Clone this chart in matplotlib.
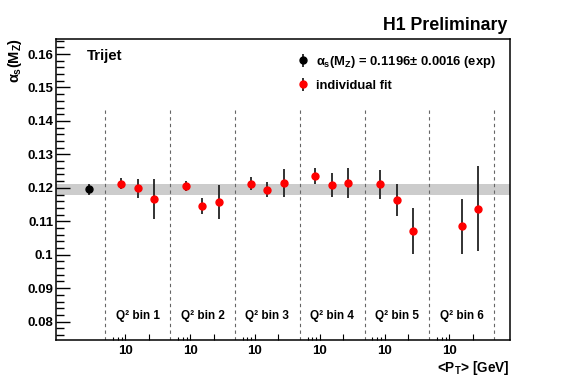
import numpy as np
import matplotlib
matplotlib.use("Agg")
import matplotlib.pyplot as plt

plt.rcParams['font.family'] = ['Liberation Sans', 'DejaVu Sans']
plt.rcParams['font.weight'] = 'bold'
plt.rcParams['mathtext.fontset'] = 'custom'
plt.rcParams['mathtext.rm'] = 'Liberation Sans:bold'
plt.rcParams['mathtext.it'] = 'Liberation Sans:bold'
plt.rcParams['mathtext.bf'] = 'Liberation Sans:bold'

# individual fits, one entry per point
q2_bin = [1, 1, 1, 2, 2, 2, 3, 3, 3, 4, 4, 4, 5, 5, 5, 6, 6]
pt_mean = [8.8, 14.4, 23.3, 8.8, 14.4, 23.3, 8.8, 14.4, 23.3,
           8.8, 14.4, 23.3, 8.8, 14.4, 23.3, 14.4, 23.3]
alpha = [0.1212, 0.1198, 0.1166, 0.1205, 0.1146, 0.1158, 0.1212, 0.1195, 0.1215,
         0.1234, 0.1209, 0.1215, 0.1211, 0.1163, 0.1072, 0.1085, 0.1138]
alpha_err = [0.0016, 0.0027, 0.0059, 0.0015, 0.0024, 0.0050, 0.0019, 0.0023, 0.0042,
             0.0024, 0.0035, 0.0045, 0.0043, 0.0048, 0.0069, 0.0083, 0.0126]

# combined fit (drawn left of the first Q2 bin)
comb_alpha = 0.1196
comb_err = 0.0016
comb_pt = 23.0
comb_bin = 0

bin_names = ["Q\u00b2 bin %d" % i for i in range(1, 7)]
pt_edge = 5.54          # lower pT edge of each Q2 panel
bin_width = 0.831       # decades per Q2 panel
tick_minor_pt = [7, 8, 9]
tick_major_pt = [10, 20]


def xpos(pt, b):
    # every Q2 bin is its own log-pT panel, shifted along x
    return np.log10(pt) + (np.asarray(b) - 1) * bin_width


fig = plt.figure(figsize=(5.67, 3.91), dpi=100)
ax = fig.add_axes([56/567, 51/391, 454/567, 301/391])

ax.set_xlim(0.112, 5.932)
ax.set_ylim(0.0745, 0.1645)

# band of the combined result
ax.axhspan(comb_alpha - comb_err, comb_alpha + comb_err, color='#cccccc', lw=0, zorder=0)

# panel separators
for k in range(7):
    ax.plot([xpos(pt_edge, k + 1)] * 2, [0.0745, 0.1437], ls=(0, (3, 3)),
            color='#666666', lw=0.8, zorder=1)

# panel labels
for k, name in enumerate(bin_names):
    xc = (xpos(pt_edge, k + 1) + xpos(pt_edge, k + 2)) / 2
    ax.text(xc, 0.0817, name, ha='center', va='center', fontsize=8.5, fontweight='bold')

x_ind = xpos(np.array(pt_mean), np.array(q2_bin))
h_comb = ax.errorbar([xpos(comb_pt, comb_bin)], [comb_alpha], yerr=[comb_err], fmt='o',
                     color='black', ecolor='#222222', ms=5, elinewidth=1.3, capsize=0, zorder=3)
h_ind = ax.errorbar(x_ind, alpha, yerr=alpha_err, fmt='o', mfc='red', mec='red',
                    ecolor='#222222', ms=5, elinewidth=1.3, capsize=0, zorder=3)

ax.legend([h_comb, h_ind],
          [r'$\alpha_s$(M$_Z$) = 0.1196$\pm$ 0.0016 (exp)', 'individual fit'],
          loc='upper left', bbox_to_anchor=(0.505, 0.99), frameon=False,
          fontsize=9.4, handlelength=0.9, handletextpad=0.55, labelspacing=0.75)

# axes ticks
ax.set_yticks(np.arange(0.08, 0.161, 0.01))
ax.set_yticklabels(["%g" % v for v in np.arange(0.08, 0.161, 0.01).round(2)])
ax.set_yticks(np.arange(0.076, 0.1645, 0.002), minor=True)
ax.tick_params(axis='y', which='major', direction='in', length=10, width=1, pad=2, labelsize=9.5)
ax.tick_params(axis='y', which='minor', direction='in', length=5.8, width=1)

xmaj, xlab, xmin = [], [], []
for b in range(1, 7):
    for p in tick_major_pt:
        xmaj.append(xpos(p, b))
        xlab.append("10" if p == 10 else "")
    for p in tick_minor_pt:
        xmin.append(xpos(p, b))
ax.set_xticks(xmaj)
ax.set_xticklabels(xlab)
ax.set_xticks(xmin, minor=True)
ax.tick_params(axis='x', which='major', direction='in', length=4, width=0.8, pad=3.5, labelsize=9.5)
ax.tick_params(axis='x', which='minor', direction='in', length=2.2, width=0.8)

for s in ax.spines.values():
    s.set_linewidth(1.1)

ax.text(0.068, 0.945, 'Trijet', transform=ax.transAxes, fontsize=10.8,
        fontweight='bold', va='center')
fig.text(507/567, 1 - 25/391, 'H1 Preliminary', ha='right', va='center',
         fontsize=12.8, fontweight='bold')
fig.text(510/567, 1 - 368/391, r'<P$_T$> [GeV]', ha='right', va='center',
         fontsize=9.8, fontweight='bold')
fig.text(15/567, 1 - 38/391, r'$\alpha_s$(M$_Z$)', ha='center', va='top',
         rotation=90, fontsize=10.5, fontweight='bold')

fig.savefig('out.png', dpi=100)
